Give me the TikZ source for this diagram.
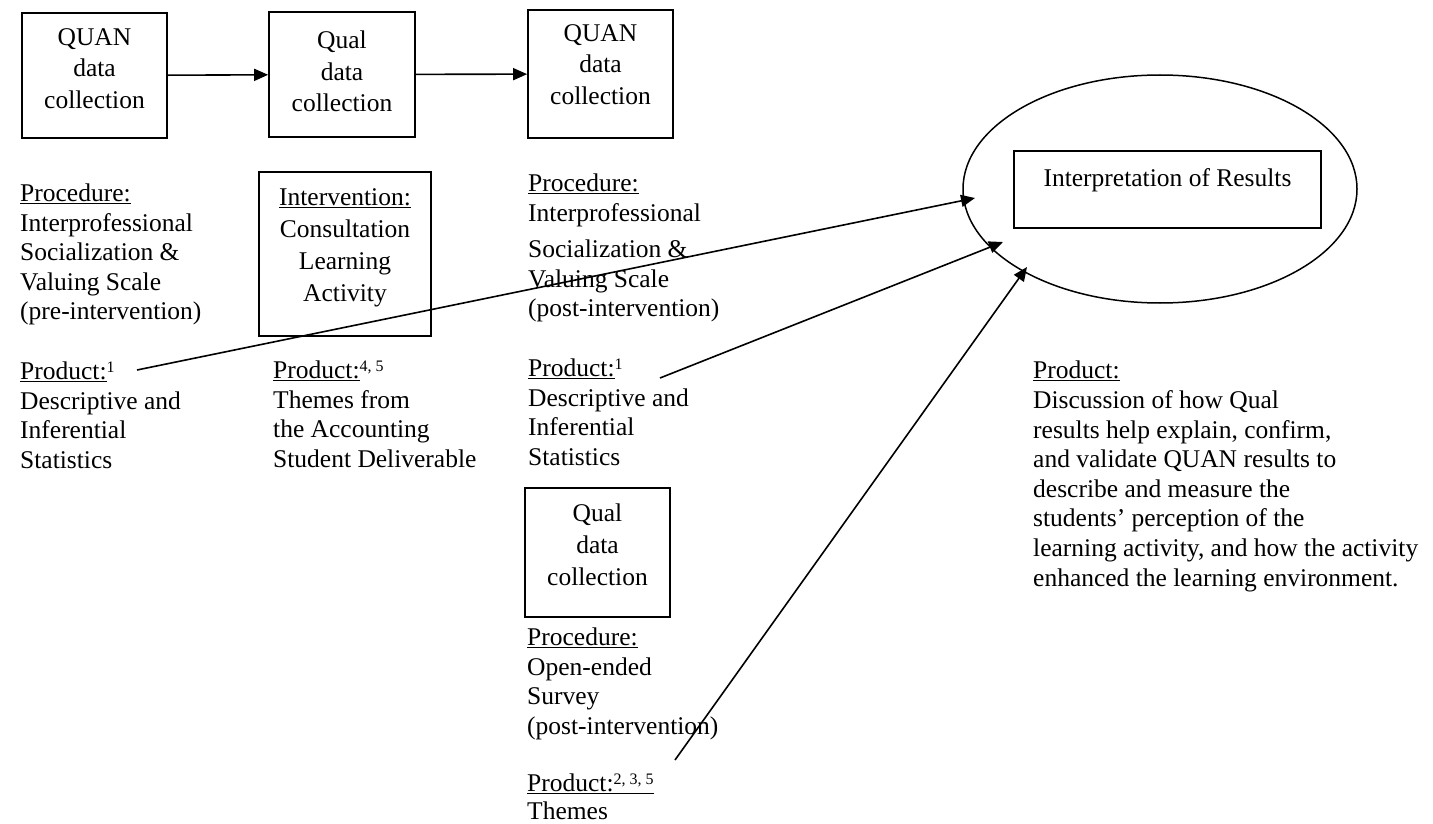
\documentclass[tikz,border=0pt]{standalone}
\usepackage{fontspec}
\setmainfont{Liberation Serif}
\usetikzlibrary{arrows.meta,shapes.geometric}
\newcommand{\sups}[1]{\raisebox{7pt}{\fontsize{16}{16}\selectfont #1}}
\begin{document}
\begin{tikzpicture}[x=1pt,y=-1pt,
  txt/.style={anchor=north west, inner sep=0pt, align=left, font=\fontsize{25.5}{29.5}\selectfont},
  boxtxt/.style={anchor=north, inner sep=0pt, align=center, font=\fontsize{25.5}{31.5}\selectfont},
  box/.style={draw, line width=1.7pt, inner sep=0pt},
  arr/.style={line width=1.6pt, -{Triangle[length=14pt,width=12pt]}},
]
\useasboundingbox[fill=white] (0,0) rectangle (1433,824);

% top row
\node[box, minimum width=145pt, minimum height=125pt] (q1) at (94.5,75.5) {};
\node[boxtxt] (q1t) at (94.5,28) {QUAN\\data\\collection};
\node[box, minimum width=146pt, minimum height=125pt] (q2) at (342,74.5) {};
\node[boxtxt] (q2t) at (342,31) {Qual\\data\\collection};
\node[box, minimum width=145pt, minimum height=128pt] (q3) at (600.5,74) {};
\node[boxtxt] (q3t) at (600.5,24) {QUAN\\data\\collection};
\draw[arr] (q1) -- (q2);
\draw[arr] (q2) -- (q3);

% left column
\node[txt] (procL) at (20,184) {\underline{Procedure:}\\Interprofessional\\Socialization \&\\Valuing Scale\\(pre-intervention)};
\node[txt] (prodL) at (20,362) {\underline{Product:}\sups{1}\\Descriptive and\\Inferential\\Statistics};

% intervention
\node[box, minimum width=172pt, minimum height=164pt] (interv) at (345,254) {};
\node[boxtxt, font=\fontsize{25.5}{32}\selectfont] (intervt) at (345,188) {\underline{Intervention:}\\Consultation\\Learning\\Activity};
\node[txt] (prodM) at (273,361) {\underline{Product:}\sups{4, 5}\\Themes from\\the Accounting\\Student Deliverable};

% third column
\node[txt] (procR) at (528,174) {\underline{Procedure:}\\Interprofessional\\[7pt]Socialization \&\\Valuing Scale\\(post-intervention)};
\node[txt] (prod3) at (528,359) {\underline{Product:}\sups{1}\\Descriptive and\\Inferential\\Statistics};

\node[box, minimum width=145pt, minimum height=129pt] (q4) at (597.5,552.5) {};
\node[boxtxt, font=\fontsize{25.5}{32}\selectfont] (q4t) at (597.5,504) {Qual\\data\\collection};
\node[txt] (procQ) at (527,628) {\underline{Procedure:}\\Open-ended\\Survey\\(post-intervention)};
\node[txt, font=\fontsize{25.5}{27.5}\selectfont] (prodQ) at (527,774) {\underline{Product:\sups{2, 3, 5}}\\Themes};

% interpretation
\node[draw, ellipse, line width=1.5pt, minimum width=394pt, minimum height=228pt, inner sep=0pt] (ell) at (1160,189) {};
\node[box, minimum width=307pt, minimum height=77pt] (interp) at (1167.5,189.5) {};
\node[boxtxt] (interpt) at (1167.5,168) {Interpretation of Results};

\node[txt, font=\fontsize{25.5}{29.6}\selectfont] (prodR) at (1033,361) {\underline{Product:}\\Discussion of how Qual\\results help explain, confirm,\\and validate QUAN results to\\describe and measure the\\students’ perception of the\\learning activity, and how the activity\\enhanced the learning environment.};

% connectors
\coordinate (sA) at (137,370);
\coordinate (tA) at (975,198);
\coordinate (sB) at (660,378);
\coordinate (tB) at (1003,242);
\coordinate (sC) at (675,760);
\coordinate (tC) at (1027,267);
\draw[arr] (sA) -- (tA);
\draw[arr] (sB) -- (tB);
\draw[arr] (sC) -- (tC);
\end{tikzpicture}
\end{document}
